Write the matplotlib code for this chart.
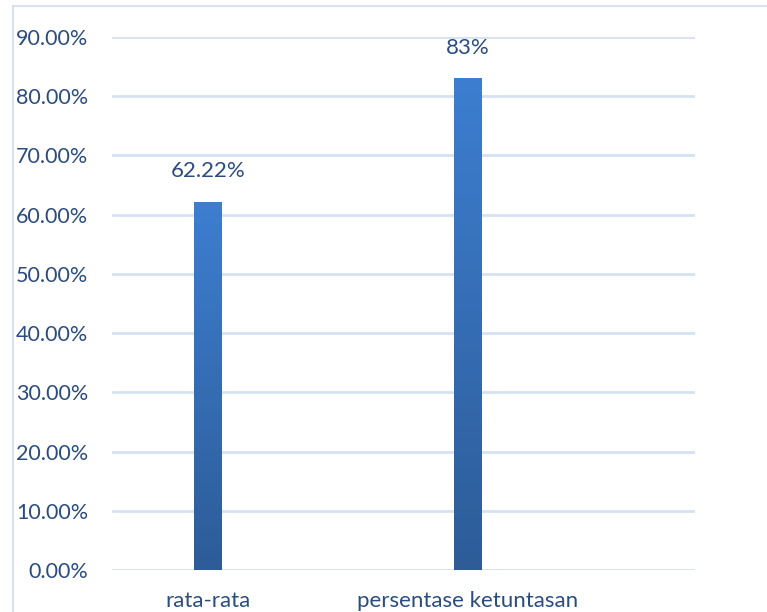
import matplotlib
matplotlib.use("Agg")
import matplotlib.pyplot as plt
import numpy as np
from matplotlib.lines import Line2D
from matplotlib.colors import LinearSegmentedColormap

# Data
kategori = ["rata-rata", "persentase ketuntasan"]
nilai = [0.6222, 0.83]
format_label = ["{:.2%}", "{:.0%}"]
ticks_y = [0.0, 0.1, 0.2, 0.3, 0.4, 0.5, 0.6, 0.7, 0.8, 0.9]

warna_teks = "#2b4c7e"
warna_grid = "#d6e2f2"

plt.rcParams["font.family"] = ["Lato", "DejaVu Sans"]

fig = plt.figure(figsize=(7.67, 6.12), dpi=100)
ax = fig.add_axes([112 / 767, 1 - 570 / 612, 583 / 767, 533 / 612])

x = np.arange(len(kategori))
bars = ax.bar(x, nilai, width=0.104, color="#3468b0", zorder=3)

# gradasi warna di tiap batang (terang di atas, gelap di bawah)
cmap = LinearSegmentedColormap.from_list("biru", ["#2d5c98", "#3d7ed0"])
grad = np.linspace(0, 1, 256).reshape(-1, 1)
for b in bars:
    x0, y0 = b.get_x(), b.get_y()
    w, h = b.get_width(), b.get_height()
    im = ax.imshow(grad, cmap=cmap, origin="lower", aspect="auto",
                   extent=[x0, x0 + w, y0, y0 + h], zorder=4)
    im.set_clip_path(b)

for xi, v, fmt in zip(x, nilai, format_label):
    ax.text(xi, v + 0.034, fmt.format(v), ha="center", va="bottom",
            fontsize=16, color=warna_teks, clip_on=False)

ax.set_xlim(-0.369, 1.873)
ax.set_ylim(0, 0.9)
ax.set_yticks(ticks_y)
ax.set_yticklabels([f"{t:.2%}" for t in ticks_y])
ax.set_xticks(x)
ax.set_xticklabels(kategori)
ax.tick_params(axis="both", length=0, colors=warna_teks)
ax.tick_params(axis="y", pad=17, labelsize=15.5)
ax.tick_params(axis="x", pad=15, labelsize=16)

ax.grid(axis="y", color=warna_grid, linewidth=2, zorder=0)
for s in ax.spines.values():
    s.set_visible(False)

# bingkai area grafik
fig.add_artist(Line2D([13 / 767, 13 / 767], [0, 1 - 6 / 612],
                      color=warna_grid, linewidth=1.5))
fig.add_artist(Line2D([13 / 767, 1], [1 - 6 / 612, 1 - 6 / 612],
                      color=warna_grid, linewidth=1.5))

fig.savefig("out.png", dpi=100)
